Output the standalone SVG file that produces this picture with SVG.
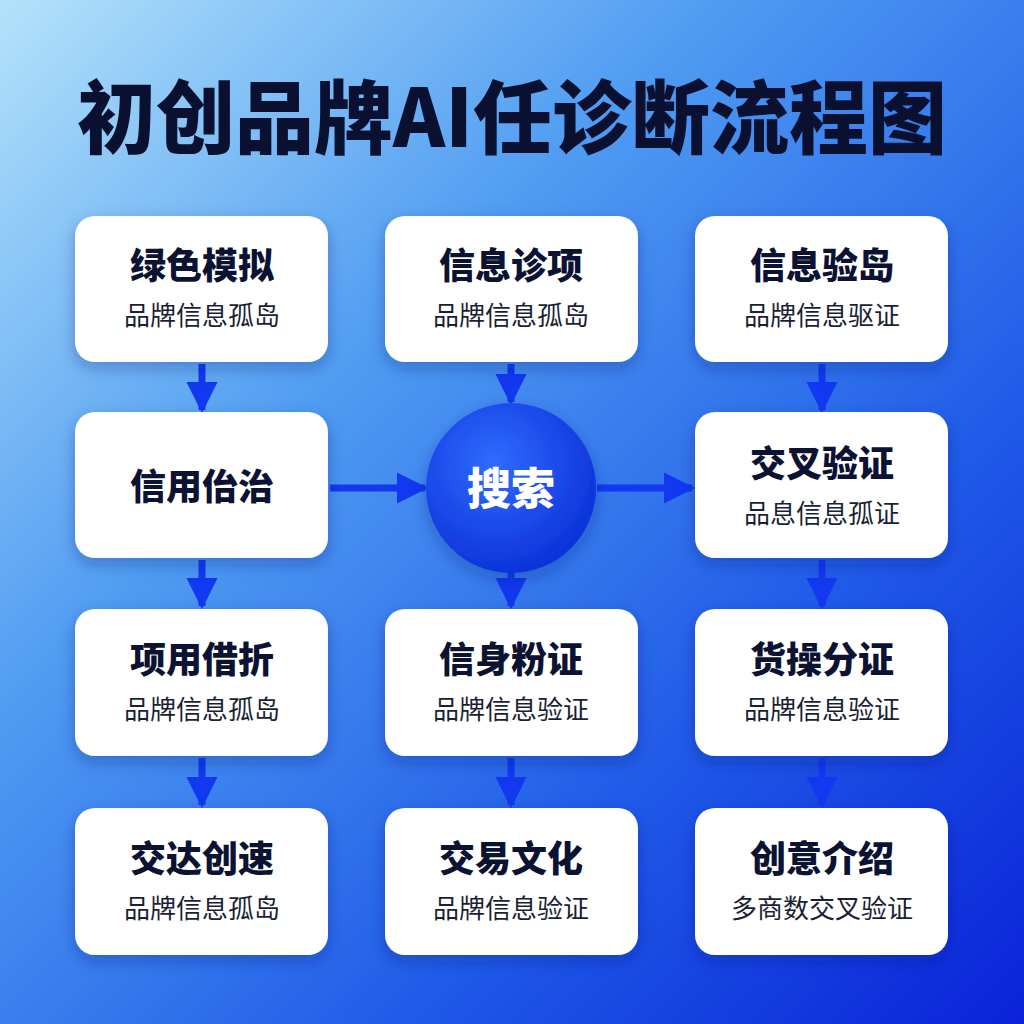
<svg xmlns="http://www.w3.org/2000/svg" width="1024" height="1024" viewBox="0 0 1024 1024">
<defs>
<linearGradient id="bg" x1="0" y1="0" x2="1" y2="1">
<stop offset="0" stop-color="#b4e2fa"/><stop offset="0.35" stop-color="#4f9cf2"/><stop offset="0.7" stop-color="#1f5ae8"/><stop offset="1" stop-color="#0a22d8"/>
</linearGradient>
<radialGradient id="cg" cx="0.4" cy="0.35" r="0.7">
<stop offset="0" stop-color="#2f6cff"/><stop offset="1" stop-color="#0b2fd8"/>
</radialGradient>
<filter id="sh" x="-20%" y="-20%" width="140%" height="150%"><feDropShadow dx="0" dy="6" stdDeviation="8" flood-color="#0a2070" flood-opacity="0.3"/></filter>
<marker id="ah" viewBox="0 0 10 10" refX="9" refY="5" markerWidth="4.5" markerHeight="4.5" orient="auto"><path d="M0,0 L10,5 L0,10 z" fill="#1238f0"/></marker>
</defs>
<style>
.card{fill:#fff;filter:url(#sh)}
.t{font-family:"Noto Sans CJK SC",sans-serif;font-weight:900;font-size:36px;fill:#0b1232;text-anchor:middle}
.s{font-family:"Noto Sans CJK SC",sans-serif;font-size:26px;fill:#1a1f33;text-anchor:middle}
.c line{stroke:#1238f0;stroke-width:7;marker-end:url(#ah)}
</style>
<rect width="1024" height="1024" fill="url(#bg)"/>
<text x="512" y="147" font-family="Noto Sans CJK SC,sans-serif" font-weight="900" font-size="80" fill="#0a1030" text-anchor="middle" textLength="870" lengthAdjust="spacingAndGlyphs">初创品牌AI任诊断流程图</text>
<g class="c">
<line x1="202" y1="364" x2="202" y2="410"/><line x1="202" y1="560" x2="202" y2="606"/><line x1="202" y1="758" x2="202" y2="805"/>
<line x1="511" y1="364" x2="511" y2="402"/><line x1="511" y1="572" x2="511" y2="606"/><line x1="511" y1="758" x2="511" y2="805"/>
<line x1="822" y1="364" x2="822" y2="410"/><line x1="822" y1="560" x2="822" y2="606"/><line x1="822" y1="758" x2="822" y2="805"/>
<line x1="330" y1="488" x2="425" y2="488"/><line x1="597" y1="488" x2="692" y2="488"/>
</g>
<g id="n1"><rect class="card" x="75" y="216" width="253" height="146" rx="20"/><text class="t" x="202" y="279">绿色模拟</text><text class="s" x="202" y="325">品牌信息孤岛</text></g>
<g id="n2"><rect class="card" x="385" y="216" width="253" height="146" rx="20"/><text class="t" x="511" y="279">信息诊项</text><text class="s" x="511" y="325">品牌信息孤岛</text></g>
<g id="n3"><rect class="card" x="695" y="216" width="253" height="146" rx="20"/><text class="t" x="822" y="279">信息验岛</text><text class="s" x="822" y="325">品牌信息驱证</text></g>
<g id="n4"><rect class="card" x="75" y="412" width="253" height="146" rx="20"/><text class="t" x="202" y="500">信用佁治</text></g>
<g id="hub"><circle cx="511" cy="488" r="85" fill="url(#cg)" filter="url(#sh)"/><text x="511" y="505" font-family="Noto Sans CJK SC,sans-serif" font-weight="900" font-size="44" fill="#fff" text-anchor="middle">搜索</text></g>
<g id="n5"><rect class="card" x="695" y="412" width="253" height="146" rx="20"/><text class="t" x="822" y="477">交叉验证</text><text class="s" x="822" y="523">品息信息孤证</text></g>
<g id="n6"><rect class="card" x="75" y="609" width="253" height="147" rx="20"/><text class="t" x="202" y="673">项用借折</text><text class="s" x="202" y="719">品牌信息孤岛</text></g>
<g id="n7"><rect class="card" x="385" y="609" width="253" height="147" rx="20"/><text class="t" x="511" y="673">信身粉证</text><text class="s" x="511" y="719">品牌信息验证</text></g>
<g id="n8"><rect class="card" x="695" y="609" width="253" height="147" rx="20"/><text class="t" x="822" y="673">货操分证</text><text class="s" x="822" y="719">品牌信息验证</text></g>
<g id="n9"><rect class="card" x="75" y="808" width="253" height="147" rx="20"/><text class="t" x="202" y="872">交达创速</text><text class="s" x="202" y="918">品牌信息孤岛</text></g>
<g id="n10"><rect class="card" x="385" y="808" width="253" height="147" rx="20"/><text class="t" x="511" y="872">交易文化</text><text class="s" x="511" y="918">品牌信息验证</text></g>
<g id="n11"><rect class="card" x="695" y="808" width="253" height="147" rx="20"/><text class="t" x="822" y="872">创意介绍</text><text class="s" x="822" y="918">多商数交叉验证</text></g>
</svg>
